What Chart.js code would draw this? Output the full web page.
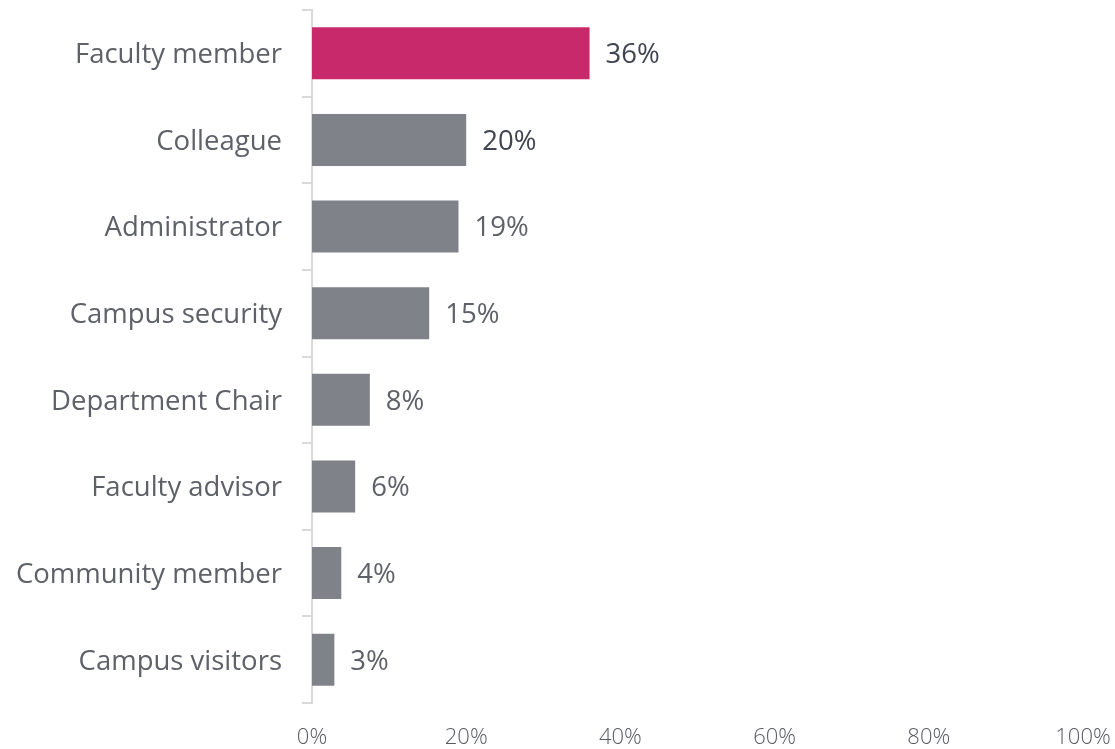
<!DOCTYPE html>
<html>
<head>
<meta charset="utf-8">
<script src="https://cdn.jsdelivr.net/npm/chart.js@4"></script>
<style>
html,body{margin:0;padding:0;background:#fff;}
#wrap{width:1115px;height:749px;position:relative;}
</style>
</head>
<body>
<div id="wrap"><canvas id="c" width="1115" height="749"></canvas></div>
<script>
const categories = ["Faculty member","Colleague","Administrator","Campus security","Department Chair","Faculty advisor","Community member","Campus visitors"];
const values = [36, 20, 19, 15.2, 7.5, 5.6, 3.8, 2.9];
const xTicks = [0, 20, 40, 60, 80, 100];
const barColors = ["#c8296a","#808289","#808289","#808289","#808289","#808289","#808289","#808289"];
const labelColors = ["#3f4450","#3f4450","#5f6169","#5f6169","#5f6169","#5f6169","#5f6169","#5f6169"];

const FONT = "'Open Sans', 'Noto Sans', sans-serif";

const valueLabels = {
  id: 'valueLabels',
  afterDatasetsDraw(chart) {
    const ctx = chart.ctx;
    const meta = chart.getDatasetMeta(0);
    ctx.save();
    ctx.textBaseline = 'middle';
    ctx.textAlign = 'left';
    meta.data.forEach((bar, i) => {
      ctx.font = '400 27.5px ' + FONT;
      ctx.fillStyle = labelColors[i];
      ctx.fillText(Math.round(values[i]) + '%', bar.x + 16, bar.y + 2);
    });
    ctx.restore();
  }
};

new Chart(document.getElementById('c'), {
  type: 'bar',
  data: {
    labels: categories,
    datasets: [{
      data: values,
      backgroundColor: barColors,
      borderWidth: 0,
      barPercentage: 0.6,
      categoryPercentage: 1.0
    }]
  },
  options: {
    indexAxis: 'y',
    responsive: false,
    animation: false,
    devicePixelRatio: 1,
    layout: { padding: { top: 10, right: 32, bottom: 0, left: 0 } },
    plugins: { legend: { display: false }, tooltip: { enabled: false } },
    scales: {
      x: {
        min: 0, max: 100,
        afterBuildTicks(axis) { axis.ticks = xTicks.map(v => ({ value: v })); },
        afterFit(scale) { scale.height = 46; scale.paddingLeft = 0; scale.paddingRight = 0; },
        grid: { display: false, drawTicks: false },
        border: { display: false },
        ticks: {
          color: '#595b63',
          font: { family: FONT, size: 22, weight: 300 },
          padding: 22,
          callback: v => v + '%'
        }
      },
      y: {
        afterFit(scale) { scale.width = 312; scale.paddingTop = 0; scale.paddingBottom = 0; },
        grid: { offset: true, drawOnChartArea: false, drawTicks: true, tickLength: 10, color: '#d9d9d9', lineWidth: 2 },
        border: { display: true, color: '#d9d9d9', width: 2 },
        ticks: {
          color: '#5f6169',
          font: { family: FONT, size: 27.5, weight: 400 },
          padding: 20,
          labelOffset: 2
        }
      }
    }
  },
  plugins: [valueLabels]
});
</script>
</body>
</html>
